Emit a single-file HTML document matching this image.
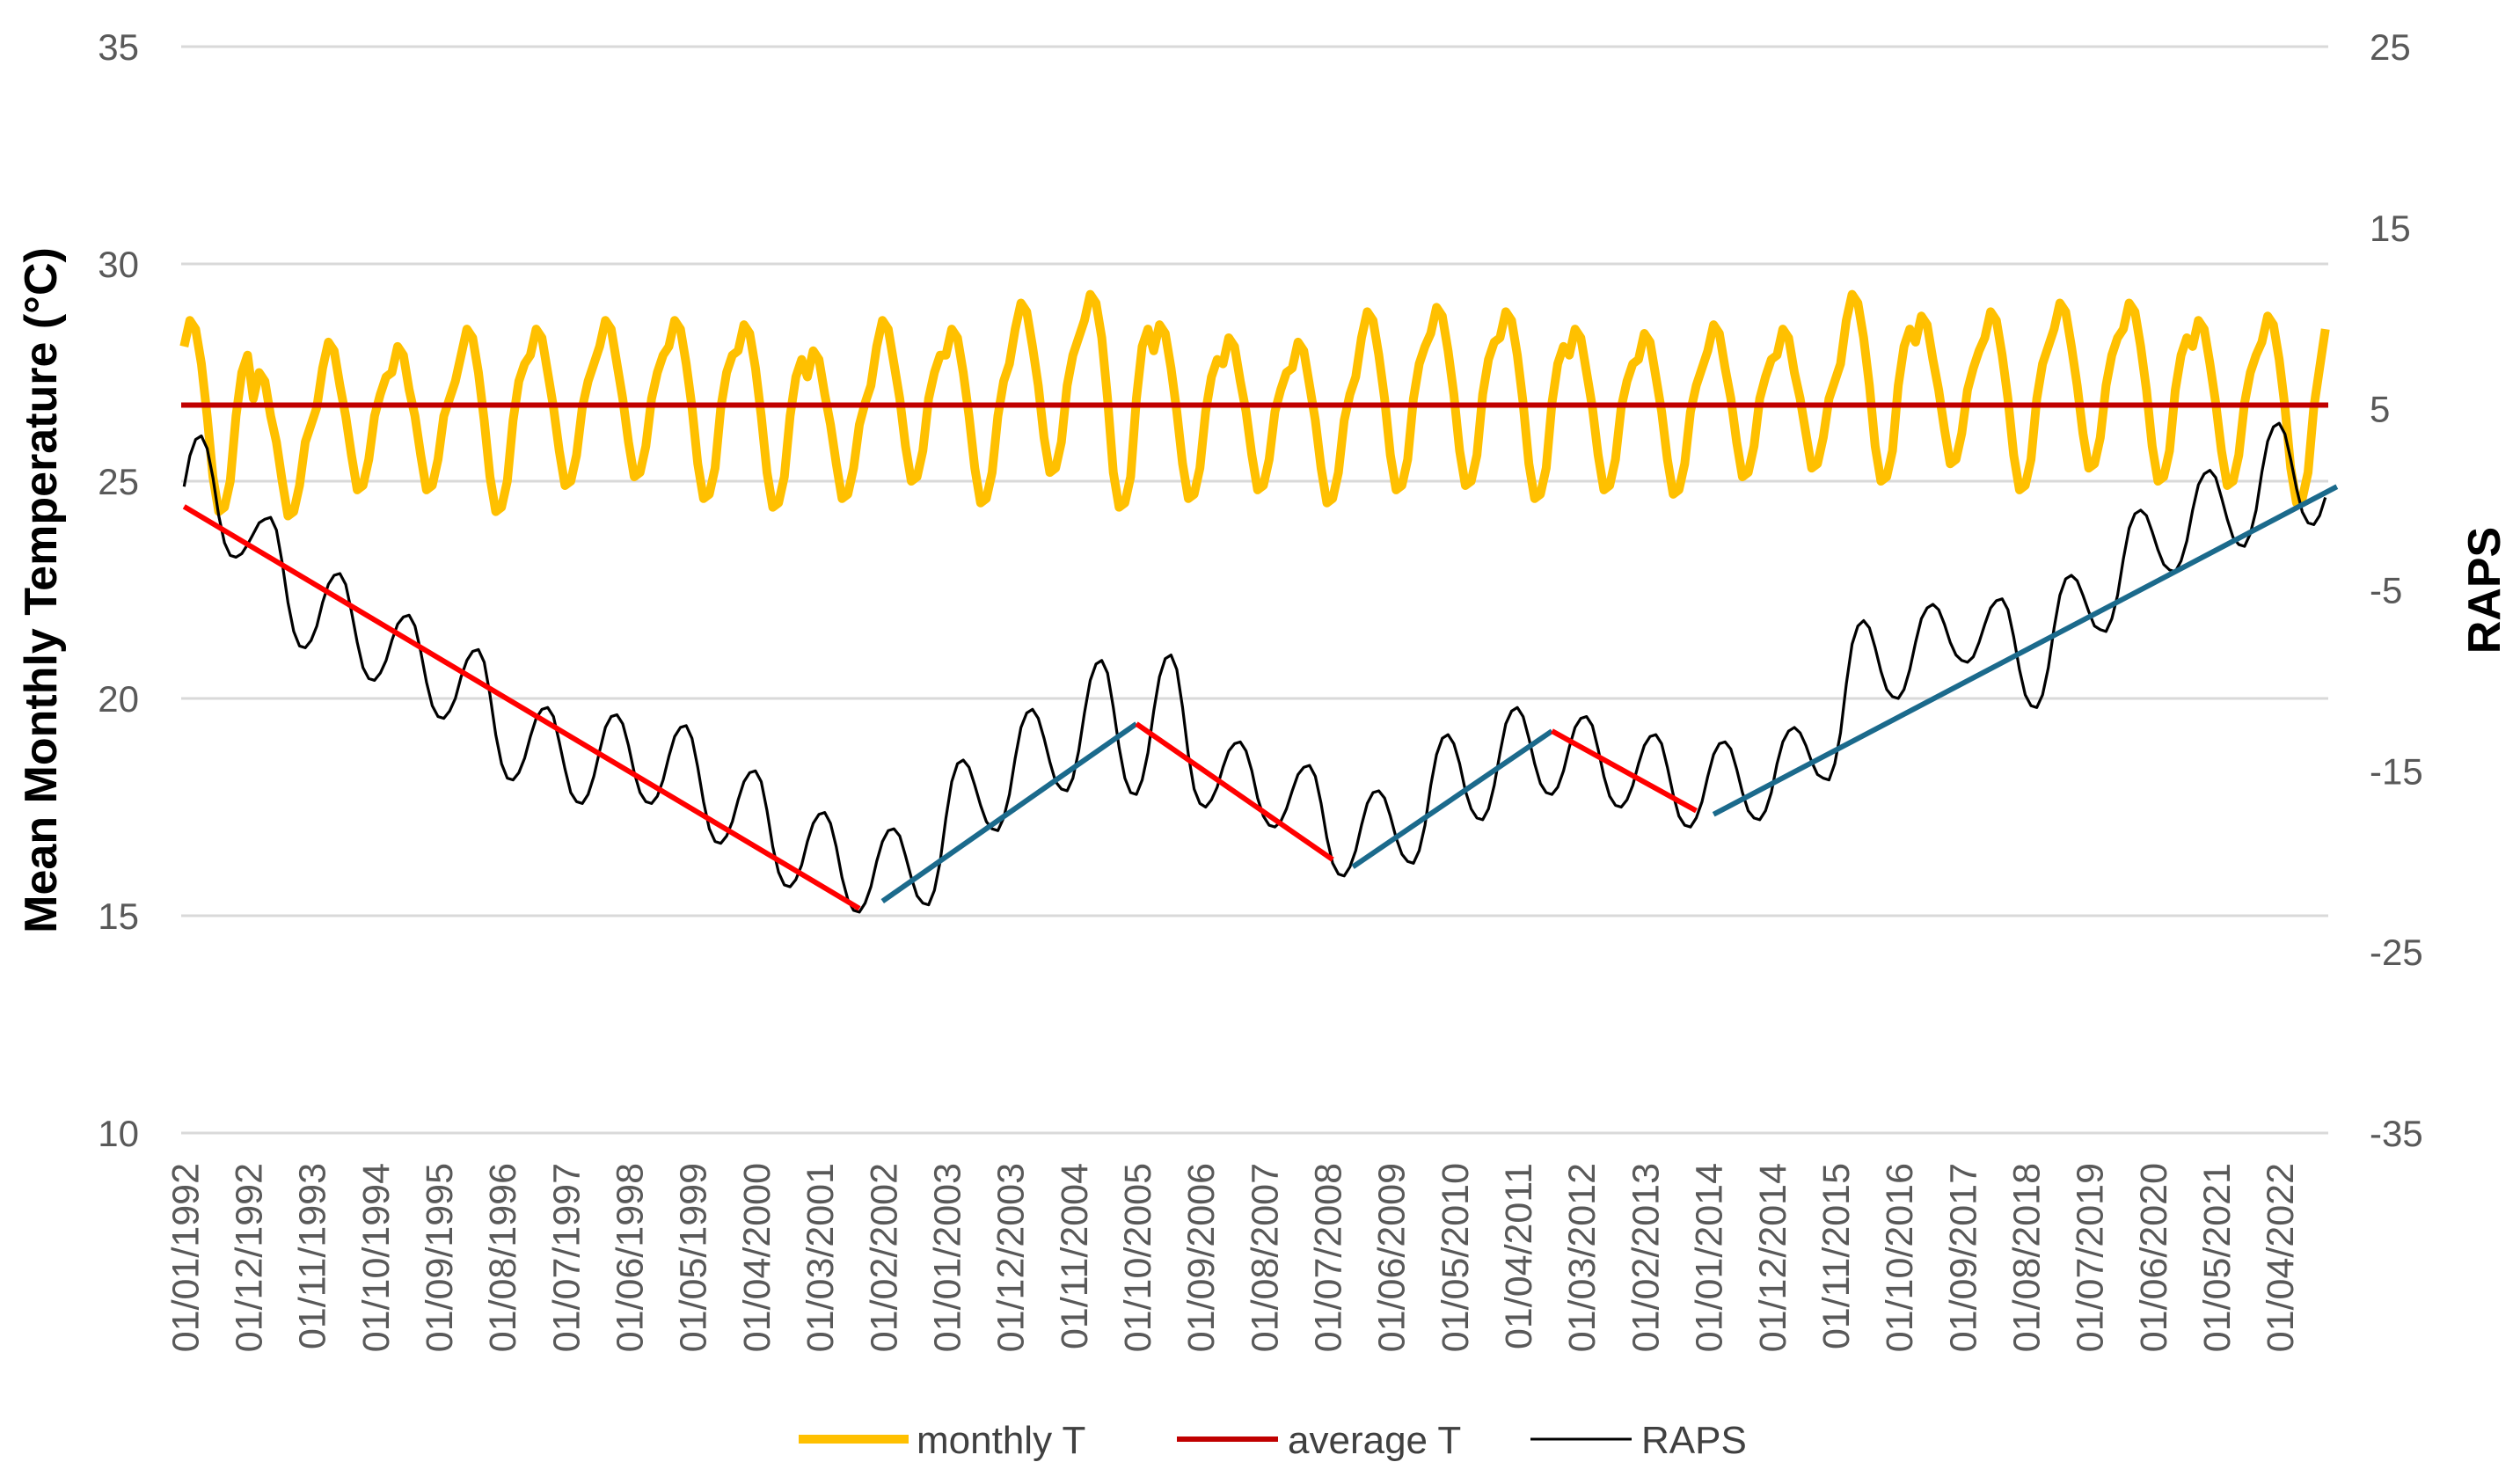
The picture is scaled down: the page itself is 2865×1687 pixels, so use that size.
<!DOCTYPE html>
<html><head><meta charset="utf-8">
<style>
html,body{margin:0;padding:0;background:#fff;}
svg{display:block;font-family:"Liberation Sans",sans-serif;}
</style></head>
<body>
<svg id="chart" width="2865" height="1687" viewBox="0 0 2865 1687" xmlns="http://www.w3.org/2000/svg">
<g id="grid"></g>
<g id="yleft"></g>
<g id="yright"></g>
<g id="xaxis"></g>
<g id="series"></g>
<text transform="translate(64,671) rotate(-90)" text-anchor="middle" font-size="52" font-weight="bold" fill="#000">Mean Monthly Temperature (°C)</text>
<text transform="translate(2842,671) rotate(-90)" text-anchor="middle" font-size="52" font-weight="bold" fill="#000">RAPS</text>
<g>
 <g><line x1="908" y1="1636" x2="1033" y2="1636" stroke="#FFC000" stroke-width="10"/><text x="1042" y="1652" font-size="44" fill="#404040">monthly T</text></g>
 <g><line x1="1338" y1="1636" x2="1453" y2="1636" stroke="#C00000" stroke-width="6"/><text x="1464" y="1652" font-size="44" fill="#404040">average T</text></g>
 <g><line x1="1740" y1="1636" x2="1855" y2="1636" stroke="#000" stroke-width="3"/><text x="1866" y="1652" font-size="44" fill="#404040">RAPS</text></g>
</g>
</svg>
<script>
const leftTicks=[10,15,20,25,30,35];
const rightTicks=[-35,-25,-15,-5,5,15,25];
const xLabels=["01/01/1992","01/12/1992","01/11/1993","01/10/1994","01/09/1995","01/08/1996","01/07/1997","01/06/1998","01/05/1999","01/04/2000","01/03/2001","01/02/2002","01/01/2003","01/12/2003","01/11/2004","01/10/2005","01/09/2006","01/08/2007","01/07/2008","01/06/2009","01/05/2010","01/04/2011","01/03/2012","01/02/2013","01/01/2014","01/12/2014","01/11/2015","01/10/2016","01/09/2017","01/08/2018","01/07/2019","01/06/2020","01/05/2021","01/04/2022"];
const averageT=26.75;
const monthlyT=[
28.1,28.7,28.5,27.7,26.5,25.1,24.3,24.4,25.0,26.5,27.5,27.9,
26.9,27.5,27.3,26.5,25.9,25.0,24.2,24.3,24.9,25.9,26.3,26.7,
27.6,28.2,28.0,27.2,26.5,25.6,24.8,24.9,25.5,26.5,27.0,27.4,
27.5,28.1,27.9,27.1,26.5,25.6,24.8,24.9,25.5,26.5,26.9,27.3,
27.9,28.5,28.3,27.5,26.4,25.1,24.3,24.4,25.0,26.4,27.3,27.7,
27.9,28.5,28.3,27.5,26.7,25.7,24.9,25.0,25.6,26.7,27.3,27.7,
28.1,28.7,28.5,27.7,26.9,25.9,25.1,25.2,25.8,26.9,27.5,27.9,
28.1,28.7,28.5,27.7,26.7,25.4,24.6,24.7,25.3,26.7,27.5,27.9,
28.0,28.6,28.4,27.6,26.5,25.2,24.4,24.5,25.1,26.5,27.4,27.8,
27.4,28.0,27.8,27.0,26.3,25.4,24.6,24.7,25.3,26.3,26.8,27.2,
28.1,28.7,28.5,27.7,26.9,25.8,25.0,25.1,25.7,26.9,27.5,27.9,
27.9,28.5,28.3,27.5,26.5,25.3,24.5,24.6,25.2,26.5,27.3,27.7,
28.5,29.1,28.9,28.1,27.2,26.0,25.2,25.3,25.9,27.2,27.9,28.3,
28.7,29.3,29.1,28.3,26.9,25.2,24.4,24.5,25.1,26.9,28.1,28.5,
28.0,28.6,28.4,27.6,26.6,25.4,24.6,24.7,25.3,26.6,27.4,27.8,
27.7,28.3,28.1,27.3,26.6,25.6,24.8,24.9,25.5,26.6,27.1,27.5,
27.6,28.2,28.0,27.2,26.4,25.3,24.5,24.6,25.2,26.4,27.0,27.4,
28.3,28.9,28.7,27.9,26.9,25.6,24.8,24.9,25.5,26.9,27.7,28.1,
28.4,29.0,28.8,28.0,27.0,25.7,24.9,25.0,25.6,27.0,27.8,28.2,
28.3,28.9,28.7,27.9,26.8,25.4,24.6,24.7,25.3,26.8,27.7,28.1,
27.9,28.5,28.3,27.5,26.7,25.6,24.8,24.9,25.5,26.7,27.3,27.7,
27.8,28.4,28.2,27.4,26.6,25.5,24.7,24.8,25.4,26.6,27.2,27.6,
28.0,28.6,28.4,27.6,26.9,25.9,25.1,25.2,25.8,26.9,27.4,27.8,
27.9,28.5,28.3,27.5,26.9,26.1,25.3,25.4,26.0,26.9,27.3,27.7,
28.7,29.3,29.1,28.3,27.2,25.8,25.0,25.1,25.7,27.2,28.1,28.5,
28.2,28.8,28.6,27.8,27.1,26.2,25.4,25.5,26.1,27.1,27.6,28.0,
28.3,28.9,28.7,27.9,26.9,25.6,24.8,24.9,25.5,26.9,27.7,28.1,
28.5,29.1,28.9,28.1,27.2,26.1,25.3,25.4,26.0,27.2,27.9,28.3,
28.5,29.1,28.9,28.1,27.1,25.8,25.0,25.1,25.7,27.1,27.9,28.3,
28.1,28.7,28.5,27.7,26.8,25.7,24.9,25.0,25.6,26.8,27.5,27.9,
28.2,28.8,28.6,27.8,26.7,25.3,24.5,24.6,25.2,26.7,27.6,28.5];
const raps=[
0.7,2.4,3.3,3.5,2.8,1.2,-0.9,-2.4,-3.1,-3.2,-3.0,-2.5,
-1.9,-1.3,-1.1,-1.0,-1.7,-3.5,-5.7,-7.3,-8.1,-8.2,-7.8,-7.0,
-5.7,-4.7,-4.2,-4.1,-4.7,-6.2,-7.9,-9.3,-9.9,-10.0,-9.6,-8.9,
-7.8,-6.9,-6.5,-6.4,-7.0,-8.4,-10.1,-11.4,-12.0,-12.1,-11.7,-11.0,
-9.8,-8.9,-8.4,-8.3,-9.0,-10.8,-13.0,-14.6,-15.4,-15.5,-15.1,-14.3,
-13.1,-12.1,-11.6,-11.5,-12.0,-13.4,-14.9,-16.2,-16.7,-16.8,-16.3,-15.3,
-13.9,-12.6,-12.0,-11.9,-12.4,-13.6,-15.1,-16.2,-16.7,-16.8,-16.4,-15.5,
-14.2,-13.1,-12.6,-12.5,-13.2,-14.8,-16.7,-18.2,-18.9,-19.0,-18.6,-17.8,
-16.6,-15.6,-15.1,-15.0,-15.6,-17.2,-19.2,-20.6,-21.3,-21.4,-21.0,-20.2,
-18.9,-17.9,-17.4,-17.3,-17.9,-19.2,-20.9,-22.1,-22.7,-22.8,-22.3,-21.4,
-20.0,-18.9,-18.3,-18.2,-18.6,-19.7,-20.9,-21.9,-22.3,-22.4,-21.6,-20.0,
-17.6,-15.6,-14.6,-14.4,-14.8,-15.8,-16.9,-17.8,-18.2,-18.3,-17.6,-16.3,
-14.3,-12.6,-11.8,-11.6,-12.1,-13.2,-14.5,-15.6,-16.0,-16.1,-15.4,-13.9,
-11.8,-10.0,-9.1,-8.9,-9.6,-11.5,-13.7,-15.4,-16.2,-16.3,-15.5,-14.0,
-11.7,-9.8,-8.8,-8.6,-9.4,-11.5,-14.1,-16.0,-16.8,-17.0,-16.6,-15.9,
-14.8,-13.9,-13.5,-13.4,-13.9,-15.0,-16.5,-17.5,-18.0,-18.1,-17.8,-17.1,
-16.1,-15.2,-14.8,-14.7,-15.3,-16.8,-18.7,-20.1,-20.7,-20.8,-20.3,-19.4,
-18.0,-16.8,-16.2,-16.1,-16.5,-17.5,-18.7,-19.6,-20.0,-20.1,-19.4,-18.0,
-15.8,-14.1,-13.2,-13.0,-13.5,-14.6,-16.1,-17.1,-17.6,-17.7,-17.1,-15.8,
-14.0,-12.4,-11.7,-11.5,-12.0,-13.2,-14.6,-15.7,-16.2,-16.3,-15.9,-15.0,
-13.7,-12.6,-12.1,-12.0,-12.5,-13.8,-15.3,-16.4,-16.9,-17.0,-16.6,-15.8,
-14.6,-13.6,-13.1,-13.0,-13.5,-14.8,-16.3,-17.5,-18.0,-18.1,-17.6,-16.7,
-15.3,-14.1,-13.5,-13.4,-13.8,-14.9,-16.2,-17.2,-17.6,-17.7,-17.2,-16.2,
-14.6,-13.4,-12.8,-12.6,-12.9,-13.6,-14.5,-15.2,-15.4,-15.5,-14.6,-12.9,
-10.2,-8.0,-7.0,-6.7,-7.1,-8.2,-9.5,-10.5,-10.9,-11.0,-10.5,-9.4,
-7.9,-6.6,-6.0,-5.8,-6.1,-6.9,-7.9,-8.6,-8.9,-9.0,-8.7,-7.9,
-6.9,-6.0,-5.6,-5.5,-6.1,-7.6,-9.4,-10.8,-11.4,-11.5,-10.8,-9.3,
-7.1,-5.3,-4.4,-4.2,-4.5,-5.3,-6.2,-7.0,-7.2,-7.3,-6.6,-5.3,
-3.3,-1.6,-0.8,-0.6,-0.9,-1.8,-2.8,-3.6,-3.9,-4.0,-3.4,-2.3,
-0.6,0.8,1.4,1.6,1.2,0.1,-1.1,-2.1,-2.5,-2.6,-1.9,-0.6,
1.5,3.2,4.0,4.2,3.6,2.2,0.6,-0.7,-1.3,-1.4,-0.9,0.1];
// trend segments: start month index, end month index, start value, end value
const trendStart=[0,121,165,202.5,237,265];
const trendEnd=[117,165,199,237,262,373];
const trendStartVal=[-0.4,-22.2,-12.4,-20.3,-12.8,-17.4];
const trendEndVal=[-22.6,-12.4,-19.9,-12.8,-17.2,0.7];
const trendKind=["down","up","down","up","down","up"];

const NS="http://www.w3.org/2000/svg";
const X0=206,X1=2647,N=372,YT=53,YB=1288;
function xc(i){return X0+(i+0.5)*(X1-X0)/N;}
function yL(v){return YB-(v-10)*(YB-YT)/25;}
function yR(v){return YB-(v+35)*(YB-YT)/60;}
function mk(tag,attrs,parent){const e=document.createElementNS(NS,tag);for(const k in attrs)e.setAttribute(k,attrs[k]);parent.appendChild(e);return e;}

const grid=document.getElementById('grid'),yl=document.getElementById('yleft'),yr=document.getElementById('yright'),xa=document.getElementById('xaxis'),ser=document.getElementById('series');
leftTicks.forEach(v=>{
  const g=mk('line',{x1:X0,x2:X1,y1:yL(v),y2:yL(v),stroke:'#d9d9d9','stroke-width':3},grid);
  
  
  const t=mk('text',{x:158,y:yL(v)+15,'text-anchor':'end','font-size':42,fill:'#595959'},yl);
  t.textContent=v;
  
  
});
rightTicks.forEach(v=>{
  const t=mk('text',{x:2694,y:yR(v)+15,'text-anchor':'start','font-size':42,fill:'#595959'},yr);
  t.textContent=v;
  
  
});
xLabels.forEach((s,k)=>{
  const x=xc(k*11);
  const t=mk('text',{transform:'translate('+(x+16)+',1322) rotate(-90)','text-anchor':'end','font-size':43,fill:'#595959'},xa);
  t.textContent=s;
  
  
});
// monthly T
const pT=mk('polyline',{points:monthlyT.map((v,i)=>xc(i)+','+yL(v)).join(' '),fill:'none',stroke:'#FFC000','stroke-width':10,'stroke-linejoin':'round'},ser);


// average T
const av=mk('line',{x1:X0,x2:X1,y1:yL(averageT),y2:yL(averageT),stroke:'#C00000','stroke-width':6},ser);


// RAPS
const pR=mk('polyline',{points:raps.map((v,i)=>xc(i)+','+yR(v)).join(' '),fill:'none',stroke:'#000','stroke-width':3.2,'stroke-linejoin':'round'},ser);


// trends
trendStart.forEach((s,k)=>{
  const l=mk('line',{x1:xc(s),y1:yR(trendStartVal[k]),x2:xc(trendEnd[k]),y2:yR(trendEndVal[k]),stroke:trendKind[k]==='down'?'#FF0000':'#1B6A8C','stroke-width':6},ser);
  
  
});
</script>
</body></html>
